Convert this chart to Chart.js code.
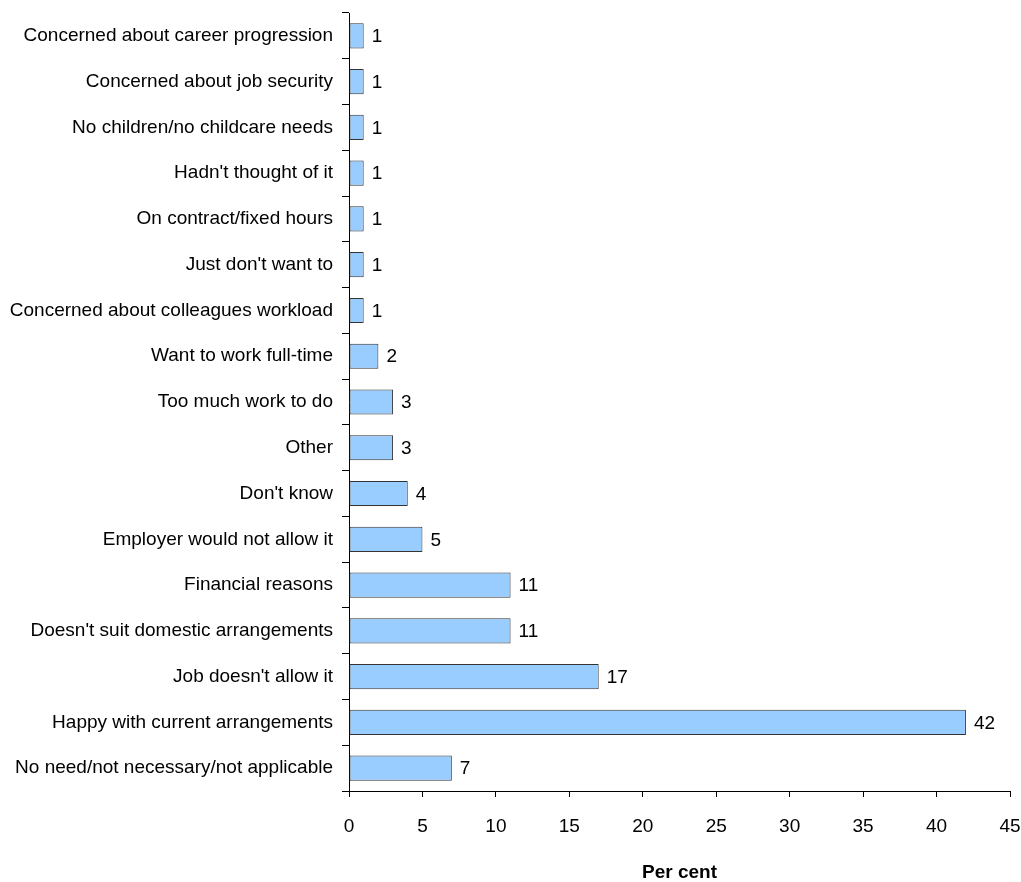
<!DOCTYPE html>
<html>
<head>
<meta charset="utf-8">
<script src="https://cdn.jsdelivr.net/npm/chart.js@4"></script>
<style>
html,body{margin:0;padding:0;background:#fff;}
#wrap{width:1021px;height:882px;position:relative;}
</style>
</head>
<body>
<div id="wrap"><canvas id="c" width="1021" height="882"></canvas></div>
<script>
const categories = [
  "Concerned about career progression",
  "Concerned about job security",
  "No children/no childcare needs",
  "Hadn't thought of it",
  "On contract/fixed hours",
  "Just don't want to",
  "Concerned about colleagues workload",
  "Want to work full-time",
  "Too much work to do",
  "Other",
  "Don't know",
  "Employer would not allow it",
  "Financial reasons",
  "Doesn't suit domestic arrangements",
  "Job doesn't allow it",
  "Happy with current arrangements",
  "No need/not necessary/not applicable"
];
const values = [1,1,1,1,1,1,1,2,3,3,4,5,11,11,17,42,7];
const xTicks = [0,5,10,15,20,25,30,35,40,45];
const xTitle = "Per cent";

const FONT = "'Liberation Sans', Arial, sans-serif";
const FS = 19;

const valueLabels = {
  id: 'valueLabels',
  afterDatasetsDraw(chart) {
    const ctx = chart.ctx;
    const meta = chart.getDatasetMeta(0);
    ctx.save();
    ctx.font = FS + "px " + FONT;
    ctx.fillStyle = "#000";
    ctx.textAlign = "left";
    ctx.textBaseline = "middle";
    meta.data.forEach((bar, i) => {
      ctx.fillText(String(values[i]), bar.x + 8, bar.y + 1);
    });
    ctx.restore();
  }
};

new Chart(document.getElementById('c'), {
  type: 'bar',
  data: {
    labels: categories,
    datasets: [{
      data: values,
      backgroundColor: '#99CCFF',
      borderColor: '#333333',
      borderWidth: 1,
      borderSkipped: false,
      categoryPercentage: 1,
      barPercentage: 0.55
    }]
  },
  options: {
    indexAxis: 'y',
    responsive: false,
    animation: false,
    devicePixelRatio: 1,
    layout: { padding: { top: 13, right: 11, bottom: 0, left: 0 } },
    plugins: { legend: { display: false }, tooltip: { enabled: false } },
    scales: {
      y: {
        afterFit(scale) { scale.width = 349; scale.paddingTop = 0; scale.paddingBottom = 0; },
        grid: { drawOnChartArea: false, tickLength: 7, color: '#000', offset: true },
        border: { color: '#000', width: 1 },
        ticks: { color: '#000', font: { family: FONT, size: FS }, padding: 9, autoSkip: false }
      },
      x: {
        min: 0, max: 45,
        afterBuildTicks(scale) { scale.ticks = xTicks.map(v => ({ value: v })); },
        afterFit(scale) { scale.height = 91; scale.paddingLeft = 0; scale.paddingRight = 0; },
        grid: { drawOnChartArea: false, tickLength: 6, color: '#000' },
        border: { color: '#000', width: 1 },
        ticks: { color: '#000', font: { family: FONT, size: FS }, padding: 18, maxRotation: 0 },
        title: { display: true, text: xTitle, color: '#000', font: { family: FONT, size: FS, weight: 'bold' }, padding: { top: 10, bottom: -2 } }
      }
    }
  },
  plugins: [valueLabels]
});
</script>
</body>
</html>
